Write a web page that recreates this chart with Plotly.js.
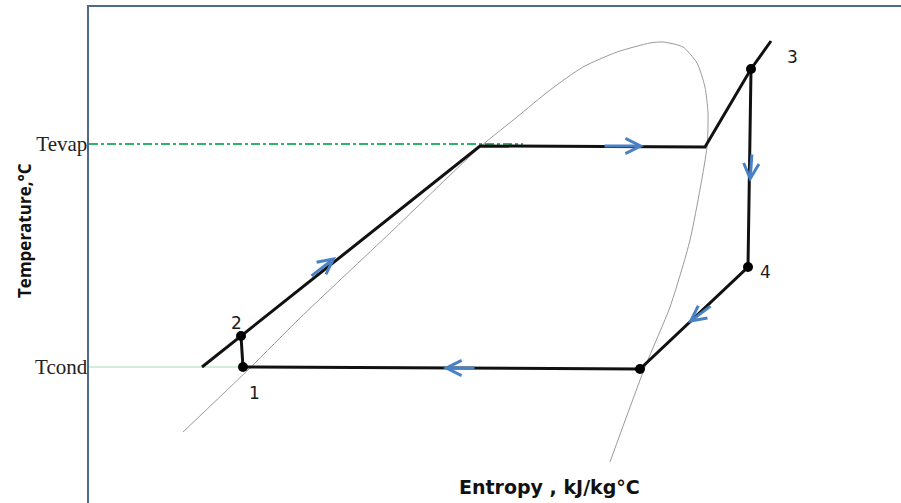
<!DOCTYPE html>
<html>
<head>
<meta charset="utf-8">
<script src="https://cdn.plot.ly/plotly-3.0.1.min.js"></script>
<style>html,body{margin:0;padding:0;background:#fff;}#chart{width:901px;height:503px;}</style>
</head>
<body>
<div id="chart"></div>
<script>
// Schematic T–s diagram (arbitrary entropy / temperature units)
var T_EVAP_REF = 359;   // Tevap reference level
var T_COND_REF = 136;   // Tcond reference level
var yTickLabels = ["Tevap", "Tcond"];

// Saturation dome
var domeS = [183, 250, 300, 390, 480, 517, 550, 583, 617, 650, 663, 683, 697, 705, 708, 707, 690, 670, 645, 610];
var domeT = [71, 135, 185, 270, 356, 386, 413, 436, 451, 460, 461, 456, 440, 416, 390, 356, 263, 196, 136, 41];

// Cycle path (black)
var cycleS = [202, 241, 480, 705, 751, 771];
var cycleT = [136, 167, 357, 356, 434, 462];
var loopS = [751, 748, 640, 243, 241];
var loopT = [434, 236, 134, 136, 167];

// State points
var stateS = [243, 241, 751, 748, 640];
var stateT = [136, 167, 434, 236, 134];
var stateLabels = ["1", "2", "3", "4", ""];
var labelS = [254, 236, 792, 765];
var labelT = [110, 180, 446, 231];

// Reference lines
var evapRefS = [89, 523];
var condRefS = [89, 272];

// Flow direction arrows (tail -> head)
var arrowTailS = [603, 310, 752, 712, 476];
var arrowTailT = [357, 226, 350, 198, 135];
var arrowHeadS = [644, 336, 750, 688, 443];
var arrowHeadT = [357, 246, 321, 180, 135];

var traces = [
  {x: evapRefS, y: [T_EVAP_REF, T_EVAP_REF], mode: "lines", line: {color: "#2fb36a", width: 2, dash: "dashdot"}, hoverinfo: "skip"},
  {x: condRefS, y: [T_COND_REF, T_COND_REF], mode: "lines", line: {color: "#a8dcb8", width: 1}, hoverinfo: "skip"},
  {x: domeS, y: domeT, mode: "lines", line: {color: "#9a9a9a", width: 1, shape: "spline", smoothing: 0.6}, hoverinfo: "skip"},
  {x: cycleS, y: cycleT, mode: "lines", line: {color: "#111111", width: 3}, hoverinfo: "skip"},
  {x: loopS, y: loopT, mode: "lines", line: {color: "#111111", width: 3}, hoverinfo: "skip"},
  {x: stateS, y: stateT, mode: "markers", marker: {color: "#000000", size: 10}, hoverinfo: "skip"}
];

var annotations = [];
for (var i = 0; i < labelS.length; i++) {
  annotations.push({x: labelS[i], y: labelT[i], xref: "x", yref: "y", text: stateLabels[i], showarrow: false,
    font: {family: "DejaVu Sans", size: 17, color: "#1a1a1a"}});
}
for (var j = 0; j < arrowTailS.length; j++) {
  annotations.push({x: arrowHeadS[j], y: arrowHeadT[j], ax: arrowTailS[j], ay: arrowTailT[j],
    xref: "x", yref: "y", axref: "x", ayref: "y", text: "", showarrow: true,
    arrowhead: 5, arrowsize: 1, arrowwidth: 3, arrowcolor: "#4a80c4"});
}
annotations.push({xref: "paper", yref: "paper", x: (549 - 89) / 812, y: (503 - 487) / 496, xanchor: "center", yanchor: "middle",
  text: "<b>Entropy , kJ/kg°C</b>", showarrow: false, font: {family: "DejaVu Sans", size: 19, color: "#111"}});
annotations.push({xref: "paper", yref: "paper", x: -65 / 812, y: (503 - 231) / 496, xanchor: "center", yanchor: "middle",
  text: "<b>Temperature,°C</b>", textangle: -90, showarrow: false, font: {family: "Open Sans", size: 17, color: "#111"}});

var layout = {
  width: 901, height: 503,
  margin: {l: 89, r: 0, t: 7, b: 0},
  paper_bgcolor: "#ffffff", plot_bgcolor: "#ffffff",
  showlegend: false,
  xaxis: {range: [89, 901], side: "top", showline: true, linecolor: "#4f6a88", linewidth: 2,
    showgrid: false, zeroline: false, showticklabels: false, ticks: "", fixedrange: true},
  yaxis: {range: [0, 496], showline: true, linecolor: "#4f6a88", linewidth: 2.5,
    showgrid: false, zeroline: false, ticks: "", tickvals: [T_EVAP_REF, T_COND_REF], ticktext: yTickLabels,
    ticklabelstandoff: -5,
    tickfont: {family: "Liberation Serif", size: 21, color: "#222"}, fixedrange: true},
  annotations: annotations
};

Plotly.newPlot("chart", traces, layout, {displayModeBar: false, staticPlot: true});
</script>
</body>
</html>
